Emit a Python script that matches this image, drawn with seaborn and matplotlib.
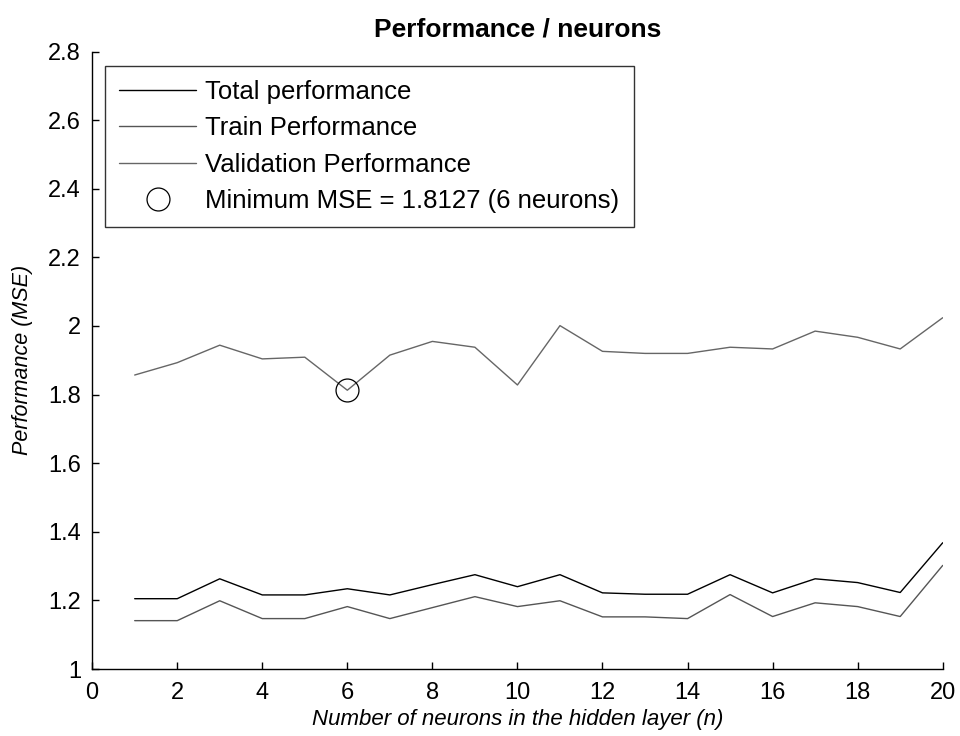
import numpy as np
import pandas as pd
import matplotlib
matplotlib.use("Agg")
import matplotlib.pyplot as plt
import seaborn as sns
from matplotlib.lines import Line2D

neurons = list(range(1, 21))
total_perf = [1.205, 1.205, 1.263, 1.216, 1.216, 1.234, 1.216, 1.246, 1.275, 1.240,
              1.275, 1.222, 1.218, 1.218, 1.275, 1.222, 1.263, 1.252, 1.223, 1.368]
train_perf = [1.141, 1.141, 1.199, 1.147, 1.147, 1.182, 1.147, 1.179, 1.211, 1.182,
              1.199, 1.152, 1.152, 1.147, 1.217, 1.153, 1.193, 1.182, 1.153, 1.302]
valid_perf = [1.857, 1.893, 1.944, 1.904, 1.909, 1.8127, 1.915, 1.955, 1.938, 1.828,
              2.001, 1.926, 1.920, 1.920, 1.938, 1.933, 1.985, 1.967, 1.933, 2.024]
min_neurons = 6
min_mse = 1.8127

sns.set_theme(style="ticks")
plt.rcParams["font.family"] = ["Liberation Sans", "DejaVu Sans"]
plt.rcParams["text.color"] = "black"
plt.rcParams["axes.labelcolor"] = "black"

df = pd.DataFrame({"n": neurons, "total": total_perf, "train": train_perf, "valid": valid_perf})

fig = plt.figure(figsize=(9.6, 7.36), dpi=100)
ax = fig.add_axes([0.096, 0.091, 0.886, 0.839])

sns.lineplot(data=df, x="n", y="total", ax=ax, color="black", linewidth=1.0)
sns.lineplot(data=df, x="n", y="train", ax=ax, color="#555555", linewidth=1.0)
sns.lineplot(data=df, x="n", y="valid", ax=ax, color="#666666", linewidth=1.0)
ax.plot([min_neurons], [min_mse], marker="o", markersize=16.5, markerfacecolor="none",
        markeredgecolor="black", markeredgewidth=0.9, linestyle="none")

ax.set_xlim(0, 20)
ax.set_ylim(1, 2.8)
ax.set_xticks(range(0, 21, 2))
ax.set_yticks([1, 1.2, 1.4, 1.6, 1.8, 2, 2.2, 2.4, 2.6, 2.8])
ax.set_yticklabels(["1", "1.2", "1.4", "1.6", "1.8", "2", "2.2", "2.4", "2.6", "2.8"])
ax.tick_params(direction="in", length=5, width=1, labelsize=17, colors="black")
ax.tick_params(axis="x", pad=9)
ax.tick_params(axis="y", pad=8)
sns.despine(ax=ax)
for s in ("left", "bottom"):
    ax.spines[s].set_color("black")
    ax.spines[s].set_linewidth(1.0)

ax.set_title("Performance / neurons", fontsize=19, fontweight="bold", pad=11, color="black")
ax.set_xlabel("Number of neurons in the hidden layer (n)", fontsize=16, style="italic",
              labelpad=4, color="black")
ax.set_ylabel("Performance (MSE)", fontsize=15.5, style="italic", labelpad=11, color="black")

handles = [
    Line2D([], [], color="black", linewidth=1.0),
    Line2D([], [], color="#555555", linewidth=1.0),
    Line2D([], [], color="#666666", linewidth=1.0),
    Line2D([], [], marker="o", markersize=16.5, markerfacecolor="none",
           markeredgecolor="black", markeredgewidth=0.9, linestyle="none"),
]
labels = ["Total performance", "Train Performance", "Validation Performance",
          "Minimum MSE = %.4f (%d neurons)" % (min_mse, min_neurons)]
leg = ax.legend(handles, labels, loc="upper left", bbox_to_anchor=(0.0153, 0.977),
                borderaxespad=0.0, fontsize=18.5, frameon=True, fancybox=False,
                edgecolor="black", handlelength=3.0, labelspacing=0.48, borderpad=0.55,
                handletextpad=0.35, labelcolor="black")
leg.get_frame().set_linewidth(1.0)

fig.savefig("out.png", dpi=100)
